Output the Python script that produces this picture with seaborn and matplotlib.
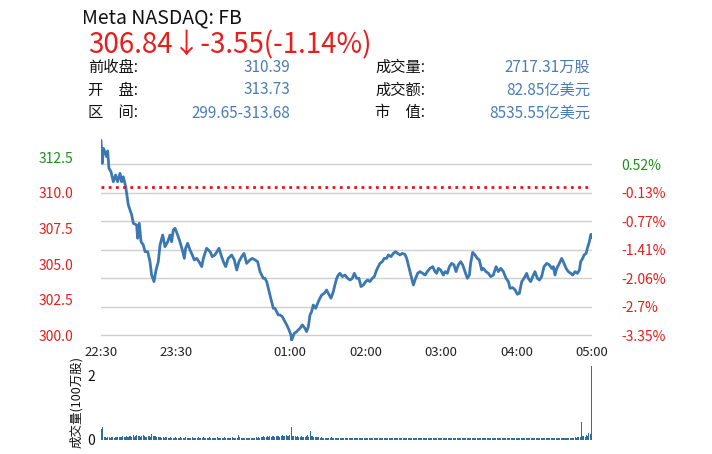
import matplotlib
matplotlib.use("Agg")
import matplotlib.pyplot as plt
import seaborn as sns
import pandas as pd

# ---------------- data ----------------
title = "Meta NASDAQ: FB"
last_price = "306.84"
arrow = "↓"
change_text = "-3.55(-1.14%)"
prev_close = 310.39

info_left_labels = ["前收盘:", "开　盘:", "区　间:"]
info_left_values = ["310.39", "313.73", "299.65-313.68"]
info_right_labels = ["成交量:", "成交额:", "市　值:"]
info_right_values = ["2717.31万股", "82.85亿美元", "8535.55亿美元"]

time_ticks = [0, 60, 150, 210, 270, 330, 390]          # minutes after 22:30
time_labels = ["22:30", "23:30", "01:00", "02:00", "03:00", "04:00", "05:00"]

left_ticks = [300.0, 302.5, 305.0, 307.5, 310.0, 312.5]
left_labels = ["300.0", "302.5", "305.0", "307.5", "310.0", "312.5"]
right_ticks = [300, 302, 304, 306, 308, 310, 312]
right_labels = ["-3.35%", "-2.7%", "-2.06%", "-1.41%", "-0.77%", "-0.13%", "0.52%"]

price_minutes = [
    0, 1, 2, 3, 4.5, 5.3, 6.3, 7.9, 9.8, 11.6, 13.2, 15.1, 16.4, 17.7, 19.6,
    21.7, 24.4, 25.7, 28.3, 29.1, 30.4, 31.8, 33.6, 35.0, 37.1, 38.9, 40.2,
    42.1, 43.7, 45.5, 46.9, 49.0, 50.8, 53.0, 54.8, 56.1, 57.4, 58.8, 60.9,
    62.7, 64.6, 66.2, 67.2, 68.8, 70.7, 72.5, 74.1, 76.0, 77.8, 80.0, 81.3,
    83.9, 86.6, 88.4, 90.5, 93.7, 95.8, 97.2, 99.0, 101.1, 103.8, 105.9,
    107.8, 109.6, 111.7, 113.6, 115.7, 118.3, 120.2, 122.3, 124.4, 126.3,
    127.6, 128.9, 130.2, 131.6, 132.9, 134.2, 135.5, 136.9, 138.2, 139.5,
    140.8, 142.2, 144.0, 146.1, 147.5, 148.8, 150.9, 151.4, 153.5, 155.4,
    158.0, 159.9, 162.0, 163.3, 164.7, 166.0, 167.3, 168.6, 170.5, 172.6,
    173.9, 175.3, 177.4, 179.2, 180.5, 182.7, 184.5, 185.8, 187.2, 188.5,
    189.8, 191.7, 193.8, 195.9, 197.8, 199.6, 201.2, 203.1, 204.9, 206.5,
    208.4, 210.2, 211.8, 213.6, 215.5, 217.1, 218.9, 220.3, 221.6, 223.4,
    225.0, 226.9, 228.2, 230.3, 232.2, 234.0, 235.6, 237.5, 239.3, 241.4,
    242.8, 244.1, 245.4, 246.7, 248.1, 249.9, 251.5, 253.4, 255.5, 257.4,
    259.2, 261.3, 263.5, 265.3, 266.6, 268.0, 269.8, 271.9, 273.3, 275.1,
    276.7, 278.6, 280.4, 282.0, 283.8, 285.7, 287.3, 289.1, 291.0, 292.6,
    293.6, 295.2, 297.1, 298.9, 300.5, 302.4, 303.7, 305.8, 307.7, 309.5,
    311.6, 313.8, 315.6, 317.5, 319.6, 321.7, 323.6, 324.9, 327.0, 328.9,
    330.7, 332.3, 334.2, 336.0, 338.1, 339.4, 341.3, 342.9, 344.7, 346.6,
    348.2, 350.0, 351.9, 354.0, 356.1, 358.0, 359.3, 360.6, 362.0, 364.1,
    365.9, 367.8, 369.4, 371.2, 373.1, 374.7, 376.5, 378.4, 380.0, 381.0,
    382.6, 383.7, 385.3, 386.3, 387.9, 388.9, 389.5, 390.0,
]
prices = [
    313.68, 312.07, 313.12, 312.89, 312.54, 312.94, 311.72, 311.49, 310.78, 311.25,
    310.78, 311.37, 310.78, 311.13, 310.43, 309.15, 308.44, 307.86, 307.74, 306.81,
    307.86, 306.57, 306.34, 305.87, 305.87, 305.17, 304.23, 303.77, 304.58, 305.17,
    306.34, 307.04, 306.22, 306.57, 307.04, 306.57, 307.39, 307.51, 307.04, 306.57,
    305.99, 305.40, 306.11, 306.46, 305.99, 305.64, 305.29, 305.40, 305.17, 304.82,
    305.40, 306.11, 305.87, 305.52, 305.64, 306.11, 305.52, 305.17, 304.82, 305.40,
    305.64, 305.29, 304.58, 305.17, 305.52, 305.75, 305.05, 305.29, 305.40, 305.29,
    305.17, 304.47, 304.23, 304.00, 304.00, 303.77, 303.30, 302.83, 302.36, 301.89,
    301.89, 301.66, 301.43, 301.43, 301.31, 300.96, 300.73, 300.49, 300.02, 299.65,
    300.14, 300.26, 300.49, 300.73, 300.49, 300.26, 300.61, 301.43, 301.66, 302.13,
    301.89, 302.36, 302.60, 302.83, 302.95, 303.18, 302.95, 302.60, 303.06, 303.53,
    304.00, 304.23, 304.35, 304.12, 304.23, 304.00, 303.88, 304.00, 304.35, 304.00,
    304.00, 303.42, 303.53, 303.77, 303.88, 303.77, 304.00, 304.12, 304.58, 304.82,
    305.05, 305.17, 305.40, 305.40, 305.64, 305.52, 305.75, 305.87, 305.75, 305.64,
    305.75, 305.68, 305.40, 304.94, 304.47, 304.00, 303.53, 304.00, 304.35, 304.47,
    304.35, 304.23, 304.47, 304.70, 304.82, 304.47, 304.35, 304.70, 304.58, 304.23,
    304.47, 304.35, 304.82, 305.05, 304.94, 304.47, 304.94, 305.17, 304.94, 304.47,
    304.00, 304.23, 305.05, 305.82, 305.64, 305.40, 305.29, 304.58, 304.70, 304.47,
    304.35, 304.12, 304.23, 304.82, 304.47, 304.70, 304.47, 304.00, 303.77, 303.30,
    303.35, 303.18, 302.88, 302.95, 303.77, 304.00, 304.35, 304.00, 303.77, 304.12,
    304.47, 304.00, 303.88, 304.12, 304.82, 305.05, 304.94, 304.70, 304.82, 304.23,
    304.70, 305.05, 305.40, 305.05, 304.70, 304.47, 304.35, 304.23, 304.47, 304.35,
    304.58, 305.17, 305.40, 305.64, 305.75, 306.11, 306.57, 307.04, 307.09, 306.84,
]

volume_minutes = list(range(391))
volumes = [  # 100万股 per minute
    0.32, 0.38, 0.09, 0.07, 0.06, 0.08, 0.07, 0.06, 0.07, 0.08,
    0.06, 0.07, 0.08, 0.07, 0.09, 0.08, 0.07, 0.10, 0.08, 0.09,
    0.11, 0.09, 0.12, 0.10, 0.08, 0.13, 0.09, 0.11, 0.15, 0.10,
    0.12, 0.09, 0.11, 0.13, 0.10, 0.08, 0.09, 0.11, 0.10, 0.09,
    0.16, 0.12, 0.10, 0.11, 0.09, 0.08, 0.07, 0.08, 0.06, 0.07,
    0.06, 0.07, 0.08, 0.06, 0.05, 0.07, 0.06, 0.05, 0.06, 0.07,
    0.05, 0.06, 0.05, 0.07, 0.06, 0.05, 0.06, 0.08, 0.05, 0.06,
    0.06, 0.05, 0.07, 0.05, 0.06, 0.06, 0.05, 0.07, 0.06, 0.05,
    0.06, 0.07, 0.05, 0.06, 0.05, 0.06, 0.08, 0.06, 0.05, 0.06,
    0.05, 0.06, 0.07, 0.05, 0.06, 0.05, 0.06, 0.05, 0.07, 0.06,
    0.05, 0.06, 0.05, 0.06, 0.07, 0.05, 0.06, 0.05, 0.06, 0.15,
    0.07, 0.05, 0.04, 0.05, 0.06, 0.04, 0.05, 0.06, 0.05, 0.04,
    0.05, 0.06, 0.05, 0.07, 0.06, 0.08, 0.06, 0.09, 0.08, 0.10,
    0.08, 0.09, 0.11, 0.08, 0.10, 0.09, 0.12, 0.10, 0.09, 0.11,
    0.10, 0.12, 0.09, 0.11, 0.13, 0.10, 0.12, 0.15, 0.11, 0.10,
    0.13, 0.38, 0.12, 0.10, 0.11, 0.09, 0.10, 0.08, 0.09, 0.10,
    0.08, 0.09, 0.07, 0.10, 0.14, 0.09, 0.28, 0.12, 0.10, 0.09,
    0.08, 0.07, 0.08, 0.07, 0.06, 0.07, 0.06, 0.05, 0.06, 0.05,
    0.06, 0.05, 0.06, 0.08, 0.05, 0.06, 0.05, 0.04, 0.05, 0.06,
    0.05, 0.04, 0.05, 0.04, 0.05, 0.06, 0.04, 0.05, 0.04, 0.05,
    0.04, 0.05, 0.04, 0.05, 0.06, 0.04, 0.05, 0.04, 0.05, 0.04,
    0.05, 0.04, 0.05, 0.04, 0.05, 0.04, 0.06, 0.05, 0.04, 0.05,
    0.04, 0.05, 0.04, 0.05, 0.05, 0.06, 0.04, 0.05, 0.04, 0.06,
    0.05, 0.06, 0.05, 0.04, 0.05, 0.06, 0.05, 0.04, 0.05, 0.04,
    0.05, 0.06, 0.05, 0.04, 0.06, 0.05, 0.05, 0.04, 0.05, 0.06,
    0.05, 0.04, 0.05, 0.06, 0.05, 0.04, 0.05, 0.05, 0.04, 0.05,
    0.06, 0.05, 0.04, 0.05, 0.04, 0.05, 0.06, 0.05, 0.04, 0.05,
    0.04, 0.05, 0.05, 0.04, 0.05, 0.04, 0.06, 0.05, 0.04, 0.05,
    0.04, 0.05, 0.04, 0.05, 0.04, 0.05, 0.04, 0.04, 0.05, 0.04,
    0.05, 0.04, 0.05, 0.06, 0.05, 0.04, 0.05, 0.04, 0.05, 0.04,
    0.05, 0.04, 0.05, 0.04, 0.05, 0.05, 0.04, 0.05, 0.04, 0.05,
    0.04, 0.05, 0.04, 0.06, 0.05, 0.04, 0.05, 0.04, 0.05, 0.04,
    0.05, 0.04, 0.05, 0.04, 0.05, 0.06, 0.05, 0.04, 0.05, 0.04,
    0.05, 0.04, 0.05, 0.04, 0.04, 0.05, 0.04, 0.05, 0.04, 0.05,
    0.04, 0.05, 0.04, 0.05, 0.04, 0.05, 0.05, 0.04, 0.05, 0.04,
    0.05, 0.04, 0.05, 0.04, 0.05, 0.04, 0.05, 0.06, 0.04, 0.05,
    0.04, 0.05, 0.04, 0.05, 0.04, 0.05, 0.04, 0.05, 0.05, 0.04,
    0.05, 0.04, 0.05, 0.05, 0.06, 0.05, 0.06, 0.07, 0.06, 0.07,
    0.08, 0.07, 0.56, 0.10, 0.12, 0.09, 0.15, 0.12, 0.20, 0.16,
    2.30,
]

# ---------------- style ----------------
sns.set_style("white")
plt.rcParams["font.family"] = ["Noto Sans CJK SC", "DejaVu Sans"]

RED = "#e61e1e"
GREEN = "#1e8c1e"
BLUE_TXT = "#4a7db5"
LINE = "#3b78b2"
BAR = "#2f6d9e"

W, H = 712, 454
fig = plt.figure(figsize=(W / 100, H / 100), dpi=100)

def fx(px):
    return px / W

def fy(py):
    return 1 - py / H

# ---------------- header ----------------
fig.text(fx(82), fy(18), title, fontsize=14, color="#111111", va="center", ha="left")
fig.text(fx(88), fy(45), last_price + arrow + change_text, fontsize=20,
         color=RED, va="center", ha="left")

row_y = [67, 90, 113]
for i, yy in enumerate(row_y):
    fig.text(fx(88), fy(yy), info_left_labels[i], fontsize=11, color="#111111",
             va="center", ha="left")
    fig.text(fx(290), fy(yy), info_left_values[i], fontsize=11, color=BLUE_TXT,
             va="center", ha="right")
    fig.text(fx(375), fy(yy), info_right_labels[i], fontsize=11, color="#111111",
             va="center", ha="left")
    fig.text(fx(590), fy(yy), info_right_values[i], fontsize=11, color=BLUE_TXT,
             va="center", ha="right")

# ---------------- price chart ----------------
left_px, right_px = 101, 592
top_px, bot_px = 138.7, 341.0
ax = fig.add_axes([fx(left_px), fy(bot_px), (right_px - left_px) / W, (bot_px - top_px) / H])
ax2 = ax.twinx()

ylim = (299.6, 313.8)
sns.lineplot(x=price_minutes, y=prices, ax=ax, color=LINE, linewidth=2.0)
ax.axhline(prev_close, color="#ee1111", linestyle=(0, (1, 1.6)), linewidth=2.0)
ax.set_xlim(0, 390)
ax.set_ylim(*ylim)
ax2.set_ylim(*ylim)

ax.set_yticks(left_ticks)
ax.set_yticklabels(left_labels, fontsize=10)
for lab, v in zip(ax.get_yticklabels(), left_ticks):
    lab.set_color(GREEN if v >= prev_close else RED)

ax2.set_yticks(right_ticks)
ax2.set_yticklabels(right_labels, fontsize=10)
for lab, v in zip(ax2.get_yticklabels(), right_ticks):
    lab.set_color(GREEN if v >= prev_close else RED)

ax.set_xticks(time_ticks)
ax.set_xticklabels(time_labels, fontsize=9.5, color="#222222")

ax2.yaxis.grid(True, color="#cfcfcf", linewidth=1.0)
ax.grid(False)
ax2.xaxis.grid(False)
ax.set_zorder(ax2.get_zorder() + 1)
ax.patch.set_visible(False)
ax2.patch.set_visible(False)

ax.tick_params(axis="y", length=0, pad=20)
ax2.tick_params(axis="y", length=0, pad=21)
ax.tick_params(axis="x", length=0, pad=3.5)
for a in (ax, ax2):
    for s in a.spines.values():
        s.set_visible(False)
ax.set_xlabel("")
ax.set_ylabel("")
ax2.set_ylabel("")

# ---------------- volume chart ----------------
vbot_px, vtop_px = 439.5, 362.7
axv = fig.add_axes([fx(left_px), fy(vbot_px), (right_px - left_px) / W, (vbot_px - vtop_px) / H])
vdf = pd.DataFrame({"minute": volume_minutes, "volume": volumes})
sns.barplot(data=vdf, x="minute", y="volume", native_scale=True, ax=axv,
            color=BAR, saturation=1, width=0.8, errorbar=None, linewidth=0)
axv.set_xlim(-0.5, 390.5)
axv.set_ylim(0, 2.4)
axv.set_yticks([0, 2])
axv.set_yticklabels(["0", "2"], fontsize=10, color="#111111")
axv.set_xticks([])
axv.set_xlabel("")
axv.set_ylabel("成交量(100万股)", fontsize=9, color="#111111")
axv.yaxis.set_label_coords(-0.037, 0.49)
axv.tick_params(axis="y", length=0, pad=4)
axv.grid(False)
for s in axv.spines.values():
    s.set_visible(False)

fig.savefig("out.png", dpi=100)
